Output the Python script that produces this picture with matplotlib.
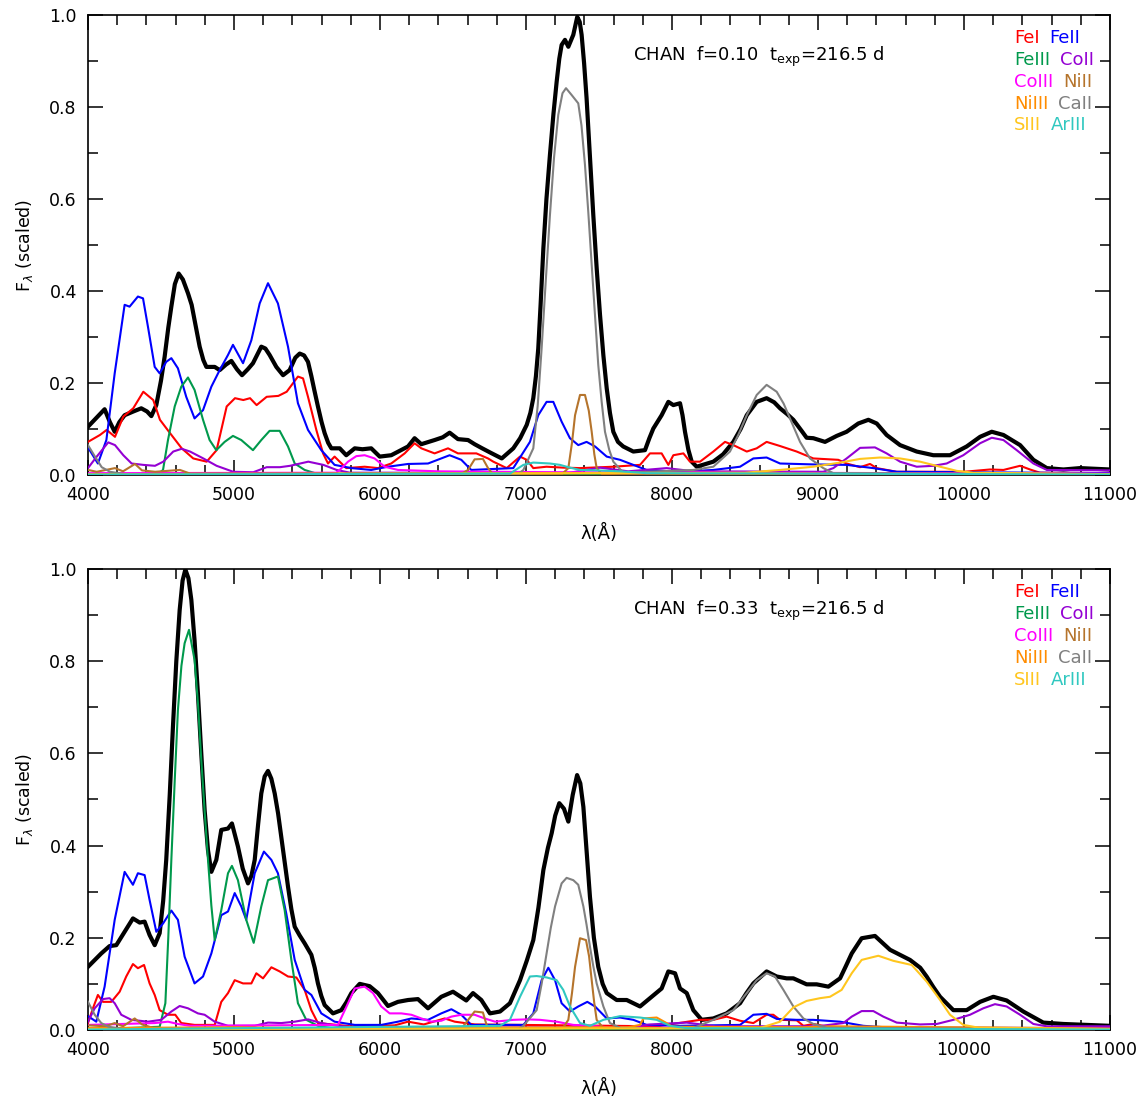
import matplotlib
matplotlib.use("Agg")
import matplotlib.pyplot as plt
from matplotlib.ticker import MultipleLocator, FormatStrFormatter

# ---- f = 0.10 model (top) : (wavelength [A], scaled flux) ----
top_total = [(4000, 0.105), (4060, 0.125), (4114, 0.143), (4150, 0.115), (4183, 0.094), (4215, 0.115),
             (4251, 0.130), (4310, 0.138), (4365, 0.145), (4405, 0.138), (4434, 0.128), (4468, 0.152),
             (4500, 0.205), (4525, 0.257), (4550, 0.320), (4571, 0.366), (4595, 0.415), (4621, 0.438),
             (4650, 0.425), (4685, 0.395), (4710, 0.370), (4730, 0.337), (4765, 0.279), (4790, 0.250),
             (4811, 0.235), (4868, 0.235), (4902, 0.228), (4945, 0.240), (4982, 0.248), (5020, 0.230),
             (5055, 0.217), (5095, 0.230), (5130, 0.243), (5187, 0.279), (5215, 0.275), (5244, 0.261),
             (5290, 0.235), (5336, 0.217), (5381, 0.228), (5420, 0.255), (5450, 0.264), (5480, 0.260),
             (5507, 0.246), (5530, 0.215), (5550, 0.185), (5575, 0.149), (5600, 0.115), (5621, 0.091),
             (5645, 0.070), (5667, 0.058), (5724, 0.058), (5769, 0.043), (5827, 0.058), (5880, 0.056),
             (5940, 0.058), (5998, 0.040), (6077, 0.043), (6150, 0.055), (6192, 0.062), (6237, 0.080),
             (6283, 0.067), (6374, 0.076), (6430, 0.082), (6477, 0.092), (6534, 0.078), (6603, 0.076),
             (6648, 0.067), (6700, 0.058), (6760, 0.048), (6834, 0.036), (6913, 0.058), (6960, 0.080),
             (7005, 0.109), (7030, 0.135), (7050, 0.167), (7068, 0.215), (7084, 0.275), (7100, 0.370),
             (7119, 0.493), (7140, 0.600), (7164, 0.696), (7188, 0.785), (7210, 0.855), (7228, 0.905),
             (7244, 0.935), (7267, 0.946), (7290, 0.931), (7324, 0.957), (7351, 0.996), (7368, 0.985),
             (7381, 0.957), (7398, 0.895), (7415, 0.819), (7438, 0.690), (7461, 0.565), (7484, 0.450),
             (7507, 0.348), (7530, 0.260), (7553, 0.188), (7575, 0.135), (7598, 0.094), (7630, 0.072),
             (7666, 0.062), (7735, 0.051), (7815, 0.054), (7845, 0.080), (7872, 0.101), (7929, 0.130),
             (7975, 0.159), (8009, 0.152), (8055, 0.156), (8072, 0.130), (8089, 0.094), (8112, 0.055),
             (8135, 0.029), (8169, 0.018), (8283, 0.029), (8350, 0.045), (8420, 0.072), (8470, 0.100),
             (8512, 0.130), (8580, 0.159), (8648, 0.167), (8700, 0.158), (8740, 0.145), (8790, 0.132),
             (8831, 0.120), (8890, 0.095), (8922, 0.081), (8968, 0.080), (9048, 0.072), (9128, 0.085),
             (9196, 0.094), (9276, 0.112), (9345, 0.120), (9402, 0.112), (9470, 0.087), (9562, 0.065),
             (9676, 0.051), (9790, 0.043), (9904, 0.043), (10018, 0.062), (10110, 0.083), (10190, 0.094),
             (10270, 0.087), (10384, 0.065), (10475, 0.033), (10567, 0.015), (10681, 0.012), (10795, 0.015),
             (11000, 0.012)]
top_fe1 = [(4000, 0.072), (4082, 0.087), (4128, 0.098), (4185, 0.083), (4242, 0.127), (4310, 0.145),
           (4379, 0.181), (4447, 0.163), (4493, 0.120), (4562, 0.091), (4642, 0.058), (4721, 0.036),
           (4813, 0.029), (4881, 0.054), (4950, 0.149), (5007, 0.167), (5064, 0.163), (5110, 0.167),
           (5155, 0.152), (5224, 0.170), (5304, 0.172), (5361, 0.181), (5438, 0.214), (5473, 0.210),
           (5507, 0.170), (5564, 0.098), (5610, 0.047), (5644, 0.025), (5689, 0.040), (5724, 0.029),
           (5769, 0.015), (5895, 0.018), (5986, 0.015), (6077, 0.025), (6169, 0.047), (6237, 0.069),
           (6283, 0.058), (6374, 0.047), (6466, 0.058), (6534, 0.047), (6603, 0.047), (6660, 0.047),
           (6740, 0.036), (6776, 0.029), (6868, 0.015), (6959, 0.040), (7005, 0.033), (7050, 0.015),
           (7141, 0.018), (7255, 0.016), (7370, 0.015), (7598, 0.018), (7781, 0.022), (7849, 0.047),
           (7929, 0.047), (7975, 0.022), (8009, 0.043), (8078, 0.047), (8123, 0.029), (8192, 0.029),
           (8283, 0.051), (8363, 0.072), (8420, 0.065), (8512, 0.051), (8580, 0.058), (8648, 0.072),
           (8740, 0.063), (8854, 0.051), (8968, 0.036), (9082, 0.034), (9139, 0.033), (9196, 0.025),
           (9288, 0.017), (9356, 0.024), (9402, 0.015), (9539, 0.007), (10000, 0.007), (10178, 0.012),
           (10270, 0.011), (10384, 0.020), (10452, 0.012), (10520, 0.005), (11000, 0.004)]
top_fe2 = [(4000, 0.060), (4068, 0.025), (4126, 0.076), (4183, 0.221), (4251, 0.370), (4285, 0.366),
           (4342, 0.388), (4377, 0.384), (4411, 0.322), (4457, 0.235), (4491, 0.221), (4536, 0.246),
           (4571, 0.254), (4616, 0.232), (4673, 0.170), (4730, 0.123), (4788, 0.141), (4845, 0.192),
           (4902, 0.228), (4959, 0.261), (4993, 0.283), (5062, 0.243), (5119, 0.293), (5176, 0.373),
           (5233, 0.417), (5301, 0.373), (5370, 0.279), (5438, 0.156), (5507, 0.098), (5598, 0.054),
           (5689, 0.022), (5804, 0.015), (5940, 0.011), (6055, 0.018), (6192, 0.024), (6329, 0.025),
           (6477, 0.043), (6557, 0.033), (6625, 0.011), (6913, 0.015), (7027, 0.072), (7084, 0.130),
           (7141, 0.159), (7187, 0.159), (7244, 0.116), (7301, 0.080), (7358, 0.065), (7415, 0.072),
           (7473, 0.062), (7553, 0.040), (7644, 0.033), (7735, 0.022), (7826, 0.011), (8055, 0.007),
           (8283, 0.011), (8466, 0.018), (8557, 0.036), (8648, 0.038), (8740, 0.025), (8968, 0.023),
           (9196, 0.022), (9378, 0.015), (9539, 0.007), (11000, 0.004)]
top_fe3 = [(4000, 0.001), (4480, 0.002), (4514, 0.011), (4548, 0.076), (4594, 0.149), (4639, 0.192),
           (4685, 0.212), (4730, 0.185), (4788, 0.120), (4833, 0.076), (4879, 0.054), (4936, 0.072),
           (4993, 0.085), (5050, 0.076), (5130, 0.054), (5187, 0.076), (5244, 0.096), (5313, 0.096),
           (5370, 0.062), (5416, 0.025), (5484, 0.011), (5575, 0.002), (11000, 0.001)]
top_co2 = [(4000, 0.015), (4060, 0.040), (4139, 0.071), (4185, 0.065), (4242, 0.043), (4299, 0.025),
           (4379, 0.022), (4459, 0.020), (4516, 0.029), (4584, 0.051), (4642, 0.057), (4699, 0.051),
           (4790, 0.036), (4881, 0.020), (4995, 0.007), (5132, 0.006), (5224, 0.017), (5315, 0.017),
           (5384, 0.020), (5509, 0.029), (5612, 0.022), (5703, 0.011), (5795, 0.005), (7300, 0.005),
           (7507, 0.016), (7700, 0.008), (7963, 0.015), (8150, 0.008), (9036, 0.007), (9105, 0.015),
           (9196, 0.036), (9288, 0.059), (9390, 0.060), (9470, 0.047), (9562, 0.029), (9676, 0.018),
           (9790, 0.020), (9881, 0.025), (9995, 0.043), (10110, 0.069), (10190, 0.081), (10270, 0.076),
           (10361, 0.054), (10475, 0.025), (10567, 0.011), (11000, 0.010)]
top_co3 = [(4000, 0.004), (5700, 0.005), (5724, 0.011), (5781, 0.029), (5838, 0.041), (5895, 0.043),
           (5963, 0.036), (6032, 0.018), (6123, 0.011), (6400, 0.008), (7200, 0.006), (11000, 0.003)]
top_ni2 = [(4000, 0.011), (4060, 0.007), (4185, 0.015), (4240, 0.008), (4322, 0.024), (4370, 0.010),
           (4460, 0.007), (4630, 0.011), (4700, 0.003), (6560, 0.003), (6603, 0.011), (6648, 0.034),
           (6705, 0.035), (6740, 0.015), (6770, 0.003), (7250, 0.003), (7290, 0.015), (7315, 0.070),
           (7336, 0.130), (7370, 0.174), (7404, 0.174), (7430, 0.140), (7450, 0.094), (7468, 0.045),
           (7484, 0.015), (7520, 0.002), (11000, 0.001)]
top_ni3 = [(4000, 0.002), (7600, 0.004), (7800, 0.006), (8000, 0.004), (11000, 0.002)]
top_ca2 = [(4000, 0.065), (4048, 0.040), (4094, 0.017), (4151, 0.007), (4250, 0.002), (6950, 0.003),
           (6982, 0.011), (7050, 0.058), (7080, 0.150), (7107, 0.275), (7135, 0.420), (7164, 0.565),
           (7192, 0.690), (7221, 0.783), (7250, 0.830), (7274, 0.841), (7313, 0.826), (7358, 0.808),
           (7380, 0.760), (7404, 0.674), (7427, 0.570), (7450, 0.457), (7473, 0.345), (7495, 0.239),
           (7518, 0.160), (7541, 0.094), (7570, 0.055), (7598, 0.029), (7666, 0.005), (8146, 0.011),
           (8283, 0.018), (8397, 0.051), (8455, 0.088), (8512, 0.130), (8580, 0.174), (8648, 0.196),
           (8717, 0.181), (8765, 0.155), (8808, 0.123), (8877, 0.072), (8945, 0.036), (9036, 0.015),
           (9105, 0.004), (11000, 0.001)]
top_s3 = [(4000, 0.001), (8500, 0.005), (8740, 0.011), (8968, 0.018), (9151, 0.027), (9288, 0.035),
          (9425, 0.038), (9562, 0.036), (9699, 0.029), (9836, 0.018), (9950, 0.009), (10064, 0.005),
          (11000, 0.002)]
top_ar3 = [(4000, 0.001), (6890, 0.003), (6982, 0.022), (7050, 0.027), (7164, 0.025), (7233, 0.022),
           (7301, 0.016), (7370, 0.011), (7484, 0.010), (7644, 0.008), (7826, 0.004), (11000, 0.001)]

# ---- f = 0.33 model (bottom) ----
bot_total = [(4000, 0.137), (4091, 0.166), (4148, 0.182), (4194, 0.184), (4251, 0.213), (4308, 0.242),
             (4354, 0.233), (4388, 0.235), (4422, 0.206), (4457, 0.184), (4491, 0.210), (4515, 0.280),
             (4536, 0.369), (4560, 0.510), (4582, 0.658), (4605, 0.800), (4628, 0.911), (4648, 0.975),
             (4667, 0.999), (4688, 0.980), (4708, 0.933), (4730, 0.845), (4753, 0.730), (4776, 0.600),
             (4799, 0.477), (4822, 0.390), (4845, 0.343), (4879, 0.369), (4913, 0.434), (4959, 0.437),
             (4986, 0.448), (5027, 0.398), (5060, 0.350), (5096, 0.318), (5120, 0.335), (5142, 0.369),
             (5165, 0.445), (5187, 0.513), (5210, 0.550), (5233, 0.562), (5256, 0.545), (5279, 0.513),
             (5302, 0.470), (5324, 0.419), (5347, 0.365), (5370, 0.311), (5393, 0.262), (5416, 0.224),
             (5450, 0.205), (5484, 0.188), (5530, 0.163), (5553, 0.135), (5575, 0.101), (5598, 0.074),
             (5621, 0.054), (5678, 0.036), (5735, 0.043), (5770, 0.060), (5804, 0.080), (5861, 0.100),
             (5929, 0.095), (5986, 0.080), (6055, 0.052), (6123, 0.061), (6192, 0.065), (6260, 0.067),
             (6329, 0.047), (6420, 0.072), (6500, 0.083), (6591, 0.064), (6637, 0.080), (6694, 0.065),
             (6753, 0.036), (6822, 0.040), (6890, 0.058), (6959, 0.108), (7005, 0.150), (7050, 0.195),
             (7085, 0.265), (7119, 0.347), (7150, 0.395), (7176, 0.427), (7200, 0.465), (7228, 0.492),
             (7260, 0.480), (7290, 0.452), (7320, 0.510), (7350, 0.553), (7372, 0.535), (7393, 0.484),
             (7415, 0.390), (7438, 0.289), (7465, 0.200), (7495, 0.137), (7525, 0.100), (7553, 0.080),
             (7621, 0.065), (7690, 0.065), (7781, 0.051), (7849, 0.069), (7929, 0.090), (7975, 0.127),
             (8021, 0.123), (8055, 0.090), (8101, 0.080), (8146, 0.043), (8203, 0.022), (8283, 0.025),
             (8374, 0.036), (8466, 0.058), (8510, 0.080), (8557, 0.101), (8648, 0.127), (8717, 0.116),
             (8785, 0.112), (8831, 0.112), (8922, 0.099), (8991, 0.099), (9071, 0.094), (9151, 0.112),
             (9190, 0.138), (9231, 0.166), (9299, 0.199), (9390, 0.204), (9493, 0.174), (9630, 0.152),
             (9700, 0.135), (9744, 0.116), (9790, 0.093), (9836, 0.072), (9927, 0.043), (10018, 0.043),
             (10110, 0.061), (10201, 0.072), (10292, 0.064), (10406, 0.040), (10543, 0.016), (10681, 0.013),
             (11000, 0.009)]
bot_fe1 = [(4000, 0.015), (4034, 0.047), (4068, 0.076), (4103, 0.061), (4160, 0.061), (4217, 0.083),
           (4262, 0.116), (4308, 0.143), (4342, 0.134), (4384, 0.141), (4422, 0.101), (4457, 0.076),
           (4491, 0.043), (4548, 0.033), (4598, 0.033), (4639, 0.015), (4730, 0.011), (4868, 0.011),
           (4913, 0.061), (4959, 0.080), (5005, 0.108), (5062, 0.101), (5119, 0.101), (5153, 0.123),
           (5199, 0.112), (5256, 0.136), (5313, 0.127), (5370, 0.116), (5427, 0.114), (5484, 0.087),
           (5530, 0.043), (5575, 0.015), (5800, 0.008), (6100, 0.010), (6192, 0.018), (6300, 0.012),
           (6443, 0.025), (6512, 0.018), (6650, 0.012), (7900, 0.008), (8192, 0.022), (8283, 0.022),
           (8374, 0.029), (8466, 0.020), (8557, 0.015), (8648, 0.033), (8694, 0.033), (8740, 0.022),
           (8854, 0.021), (8900, 0.009), (8968, 0.013), (9050, 0.008), (9200, 0.005), (11000, 0.004)]
bot_fe2 = [(4000, 0.030), (4057, 0.018), (4114, 0.094), (4183, 0.239), (4251, 0.343), (4308, 0.315),
           (4342, 0.340), (4388, 0.336), (4422, 0.282), (4468, 0.213), (4514, 0.231), (4571, 0.259),
           (4616, 0.239), (4662, 0.159), (4730, 0.101), (4788, 0.116), (4845, 0.166), (4913, 0.249),
           (4959, 0.257), (5005, 0.297), (5050, 0.268), (5084, 0.239), (5142, 0.340), (5205, 0.387),
           (5256, 0.369), (5301, 0.340), (5358, 0.253), (5416, 0.152), (5484, 0.087), (5530, 0.076),
           (5598, 0.036), (5689, 0.018), (5827, 0.011), (6009, 0.011), (6123, 0.018), (6215, 0.025),
           (6329, 0.022), (6420, 0.036), (6489, 0.045), (6557, 0.033), (6625, 0.011), (6982, 0.011),
           (7050, 0.036), (7107, 0.108), (7153, 0.135), (7199, 0.108), (7244, 0.058), (7301, 0.040),
           (7358, 0.051), (7420, 0.061), (7473, 0.051), (7553, 0.025), (7644, 0.027), (7735, 0.022),
           (7826, 0.011), (8055, 0.009), (8466, 0.011), (8557, 0.033), (8648, 0.035), (8717, 0.024),
           (8854, 0.022), (8968, 0.022), (9151, 0.018), (9311, 0.009), (9500, 0.005), (11000, 0.004)]
bot_fe3 = [(4000, 0.001), (4491, 0.007), (4530, 0.058), (4550, 0.200), (4571, 0.369), (4594, 0.540),
           (4616, 0.694), (4640, 0.790), (4662, 0.839), (4692, 0.868), (4730, 0.803), (4753, 0.710),
           (4776, 0.586), (4800, 0.470), (4822, 0.369), (4845, 0.270), (4868, 0.195), (4913, 0.260),
           (4959, 0.340), (4986, 0.356), (5027, 0.325), (5084, 0.239), (5135, 0.189), (5187, 0.268),
           (5233, 0.325), (5301, 0.333), (5347, 0.260), (5393, 0.152), (5438, 0.058), (5495, 0.022),
           (5575, 0.009), (5700, 0.002), (11000, 0.001)]
bot_co2 = [(4000, 0.018), (4046, 0.047), (4103, 0.067), (4148, 0.069), (4183, 0.058), (4228, 0.033),
           (4297, 0.022), (4411, 0.018), (4502, 0.022), (4571, 0.040), (4628, 0.052), (4685, 0.047),
           (4753, 0.036), (4799, 0.033), (4868, 0.018), (4959, 0.009), (5142, 0.009), (5233, 0.016),
           (5324, 0.015), (5416, 0.018), (5507, 0.023), (5598, 0.015), (5712, 0.009), (5850, 0.005),
           (7700, 0.006), (7850, 0.012), (8100, 0.016), (8300, 0.008), (9000, 0.008), (9173, 0.015),
           (9231, 0.029), (9299, 0.041), (9379, 0.041), (9447, 0.029), (9539, 0.016), (9699, 0.012),
           (9813, 0.013), (9927, 0.022), (10041, 0.033), (10132, 0.047), (10212, 0.056), (10292, 0.051),
           (10384, 0.033), (10475, 0.013), (10567, 0.008), (11000, 0.008)]
bot_co3 = [(4000, 0.011), (4457, 0.015), (4548, 0.018), (4616, 0.013), (4700, 0.009), (5712, 0.011),
           (5781, 0.058), (5827, 0.090), (5895, 0.094), (5952, 0.080), (6009, 0.051), (6066, 0.036),
           (6146, 0.036), (6215, 0.033), (6283, 0.025), (6352, 0.018), (6420, 0.020), (6489, 0.029),
           (6557, 0.033), (6648, 0.033), (6717, 0.025), (6788, 0.018), (6913, 0.022), (7005, 0.023),
           (7096, 0.022), (7210, 0.018), (7324, 0.011), (7438, 0.009), (7600, 0.005), (11000, 0.003)]
bot_ni2 = [(4000, 0.010), (4120, 0.008), (4183, 0.015), (4240, 0.008), (4320, 0.025), (4370, 0.012),
           (4450, 0.004), (6560, 0.004), (6648, 0.040), (6705, 0.038), (6730, 0.011), (6760, 0.003),
           (7250, 0.003), (7290, 0.022), (7315, 0.080), (7336, 0.137), (7370, 0.199), (7411, 0.195),
           (7432, 0.160), (7450, 0.108), (7467, 0.060), (7484, 0.022), (7530, 0.004), (11000, 0.002)]
bot_ni3 = [(4000, 0.004), (5000, 0.006), (5500, 0.004), (7700, 0.006), (7781, 0.011), (7804, 0.025),
           (7895, 0.027), (7963, 0.015), (8000, 0.007), (8900, 0.006), (9100, 0.008), (11000, 0.003)]
bot_ca2 = [(4000, 0.061), (4046, 0.033), (4091, 0.015), (4140, 0.007), (4250, 0.002), (6950, 0.003),
           (6982, 0.009), (7073, 0.043), (7107, 0.100), (7141, 0.166), (7170, 0.222), (7199, 0.268),
           (7244, 0.318), (7278, 0.330), (7324, 0.325), (7358, 0.315), (7393, 0.268), (7415, 0.228),
           (7438, 0.181), (7460, 0.140), (7484, 0.101), (7530, 0.051), (7575, 0.015), (7650, 0.004),
           (8146, 0.004), (8283, 0.022), (8420, 0.043), (8512, 0.080), (8580, 0.108), (8648, 0.123),
           (8705, 0.116), (8763, 0.087), (8831, 0.051), (8900, 0.025), (8968, 0.013), (9060, 0.005),
           (11000, 0.001)]
bot_s3 = [(4000, 0.002), (8600, 0.004), (8740, 0.018), (8831, 0.049), (8922, 0.063), (9014, 0.069),
          (9082, 0.072), (9162, 0.087), (9231, 0.123), (9299, 0.152), (9413, 0.161), (9516, 0.150),
          (9642, 0.141), (9744, 0.105), (9836, 0.065), (9904, 0.033), (9995, 0.011), (10100, 0.005),
          (11000, 0.002)]
bot_ar3 = [(4000, 0.001), (6822, 0.009), (6890, 0.022), (6959, 0.072), (7027, 0.116), (7073, 0.117),
           (7141, 0.114), (7210, 0.108), (7255, 0.087), (7301, 0.051), (7370, 0.015), (7438, 0.009),
           (7530, 0.022), (7644, 0.030), (7781, 0.027), (7895, 0.022), (7986, 0.009), (8100, 0.004),
           (11000, 0.001)]

ions = ["FeI", "FeII", "FeIII", "CoII", "CoIII", "NiII", "NiIII", "CaII", "SIII", "ArIII"]
colors = ["#ff0000", "#0000ff", "#00994c", "#9400d3", "#ff00ff",
          "#b5742c", "#ff8c00", "#808080", "#ffc61e", "#30c8c0"]

panels = [
    ("0.10", top_total, [top_fe1, top_fe2, top_fe3, top_co2, top_co3,
                         top_ni2, top_ni3, top_ca2, top_s3, top_ar3]),
    ("0.33", bot_total, [bot_fe1, bot_fe2, bot_fe3, bot_co2, bot_co3,
                         bot_ni2, bot_ni3, bot_ca2, bot_s3, bot_ar3]),
]

fig = plt.figure(figsize=(11.44, 10.97), dpi=100)
rects = [[0.0769, 0.5670, 0.8934, 0.4193], [0.0769, 0.0611, 0.8934, 0.4202]]

for rect, (frac, total, comps) in zip(rects, panels):
    ax = fig.add_axes(rect)
    x, y = zip(*total)
    ax.plot(x, y, color="black", lw=3.0, zorder=3)
    for pts, c in zip(comps, colors):
        x, y = zip(*pts)
        ax.plot(x, y, color=c, lw=1.5, zorder=4)

    ax.set_xlim(4000, 11000)
    ax.set_ylim(0, 1.0)
    ax.xaxis.set_major_locator(MultipleLocator(1000))
    ax.xaxis.set_minor_locator(MultipleLocator(200))
    ax.yaxis.set_major_locator(MultipleLocator(0.2))
    ax.yaxis.set_minor_locator(MultipleLocator(0.1))
    ax.yaxis.set_major_formatter(FormatStrFormatter("%.1f"))
    ax.tick_params(which="both", direction="in", top=True, right=True,
                   width=1.1, labelsize=12.5, colors="black")
    ax.tick_params(which="major", length=11, pad=8)
    ax.tick_params(which="minor", length=7)
    for s in ax.spines.values():
        s.set_linewidth(1.2)

    ax.set_xlabel("λ(Å)", fontsize=13, labelpad=14)
    ax.set_ylabel(r"F$_\lambda$ (scaled)", fontsize=12.5, labelpad=10)

    ax.text(0.533, 0.91, "CHAN  f=" + frac + r"  t$_{\rm exp}$=216.5 d",
            transform=ax.transAxes, fontsize=13, va="center", ha="left")

    # two-column coloured ion key
    for row in range(5):
        yk = 0.950 - row * 0.0475
        t1 = ax.text(0.906, yk, ions[2 * row], color=colors[2 * row],
                     transform=ax.transAxes, fontsize=13, va="center", ha="left")
        ax.annotate(ions[2 * row + 1], xy=(1, 0.5), xycoords=t1,
                    xytext=(7, 0), textcoords="offset points",
                    color=colors[2 * row + 1], fontsize=13, va="center", ha="left")

fig.savefig("out.png", dpi=100)
